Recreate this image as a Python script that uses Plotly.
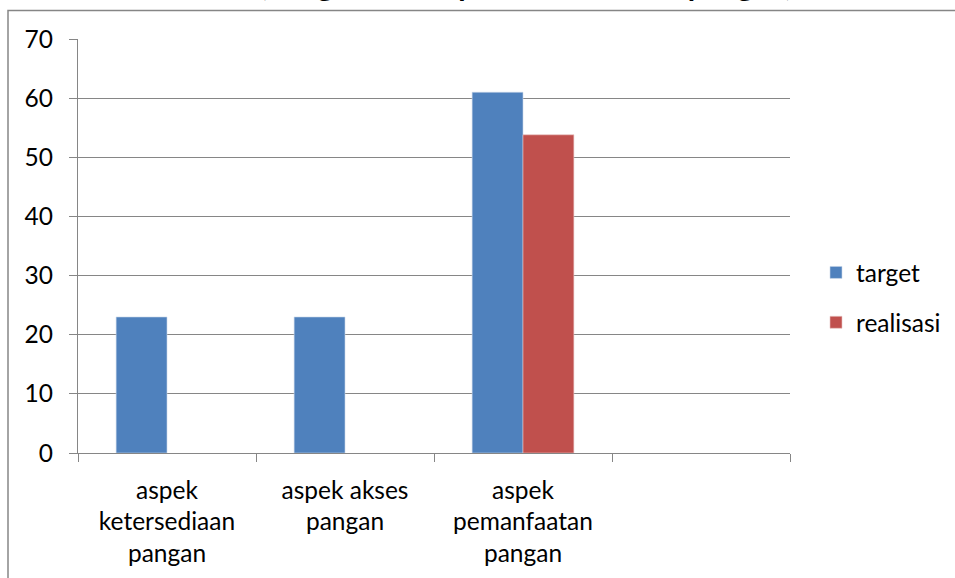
import plotly.graph_objects as go

# Data
categories = ["aspek<br>ketersediaan<br>pangan", "aspek akses<br>pangan", "aspek<br>pemanfaatan<br>pangan", " "]
target = [23, 23, 61, None]
realisasi = [None, None, 53.8, None]
y_ticks = [0, 10, 20, 30, 40, 50, 60, 70]
title_text = "Gambar 1, Target dan Capaian Ketahanan pangan,"

W, H = 955, 578
L, R, T, B = 78, 790, 39, 453  # plot area in pixels

def px_x(p):
    return (p - L) / (R - L)

def px_y(p):
    return (B - p) / (B - T)

FONT = "Lato"
FS = 24.5
GRID = "#868686"

fig = go.Figure()
fig.add_trace(go.Bar(x=categories, y=target, name="target",
                     marker=dict(color="#4F81BD", line=dict(color="#C9D6EA", width=0.6)),
                     legendgroup="a"))
fig.add_trace(go.Bar(x=categories, y=realisasi, name="realisasi",
                     marker=dict(color="#C0504D", line=dict(color="#E8C4C3", width=0.6)),
                     legendgroup="b"))

fig.update_layout(
    width=W, height=H,
    margin=dict(l=L, r=W - R, t=T, b=H - B, pad=0, autoexpand=False),
    paper_bgcolor="white", plot_bgcolor="white",
    barmode="group", bargap=1.5 / 3.5, bargroupgap=0,
    font=dict(family=FONT, size=FS, color="black"),
    showlegend=True,
    legend=dict(xref="container", yref="container", x=816 / W, y=1 - 250 / H,
                xanchor="left", yanchor="top",
                font=dict(family=FONT, size=FS), tracegroupgap=15,
                traceorder="grouped", bgcolor="rgba(0,0,0,0)"),
    xaxis=dict(type="category", showgrid=False, showline=True, linecolor=GRID, linewidth=1.3,
               ticks="outside", tickson="boundaries", ticklen=8, tickcolor=GRID, tickwidth=1.3,
               tickfont=dict(family=FONT, size=FS), ticklabelstandoff=15, fixedrange=True,
               automargin=False),
    yaxis=dict(range=[0, 70], tickvals=y_ticks, showgrid=True, gridcolor=GRID, gridwidth=1.3,
               showline=True, linecolor=GRID, linewidth=1.3, ticks="outside", ticklen=8,
               tickcolor=GRID, tickwidth=1.3, zeroline=False, automargin=False,
               tickfont=dict(family=FONT, size=FS), ticklabelstandoff=11),
)

# Chart border
fig.add_shape(type="rect", xref="paper", yref="paper",
              x0=px_x(8), x1=px_x(1000), y0=px_y(640), y1=px_y(10.5),
              line=dict(color=GRID, width=1.5), fillcolor="rgba(0,0,0,0)", layer="below")

# Title sitting above the chart frame
fig.add_annotation(text="<b>" + title_text + "</b>", xref="paper", yref="paper",
                   x=px_x(462), y=px_y(4), xanchor="center", yanchor="bottom",
                   showarrow=False, font=dict(family=FONT, size=30, color="black"))

fig.write_html("out.html")
